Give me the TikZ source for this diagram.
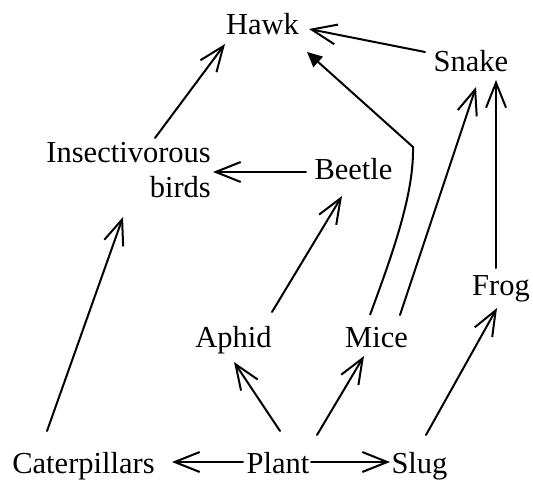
\documentclass[tikz,border=0pt]{standalone}
\usepackage{fontspec}
\setmainfont{Liberation Serif}
\usetikzlibrary{arrows.meta}
\begin{document}
\begin{tikzpicture}[x=1pt,y=-1pt,
  lbl/.style={font=\fontsize{30.5}{35}\selectfont, inner sep=0pt, anchor=base},
  arr/.style={line width=2pt, line cap=round, -{Straight Barb[length=25pt,width=20pt]}},
  farr/.style={line width=2pt, -{Triangle[length=15pt,width=14pt]}}]
\useasboundingbox (0,0) rectangle (533,481);
\node[lbl] (hawk) at (262.5,35) {Hawk};
\node[lbl] (snake) at (471,72) {Snake};
\node[lbl, align=right, anchor=north east] (insect) at (211,141.8) {Insectivorous\\birds};
\node[lbl] (beetle) at (353.5,180) {Beetle};
\node[lbl] (aphid) at (233.5,347) {Aphid};
\node[lbl] (mice) at (376.5,347) {Mice};
\node[lbl] (frog) at (501,295) {Frog};
\node[lbl] (cat) at (83.5,473) {Caterpillars};
\node[lbl] (plant) at (278,473) {Plant};
\node[lbl] (slug) at (419.5,473) {Slug};
\coordinate (bend) at (413,147);
\draw[arr] ([shift={(-46,-20)}]snake.base) -- ([shift={(46.5,-6)}]hawk.base);
\draw[arr] ([shift={(-56,-3.8)}]insect.north east) -- ([shift={(-37.5,9)}]hawk.base);
\draw[farr] ([shift={(-6.5,-32)}]mice.base) .. controls (392,255) and (414,195) .. (bend) -- ([shift={(44.5,17)}]hawk.base);
\draw[arr] ([shift={(23.5,-32)}]mice.base) -- ([shift={(5,15)}]snake.base);
\draw[arr] ([shift={(-5,-27)}]frog.base) -- ([shift={(25,8)}]snake.base);
\draw[arr] ([shift={(-47.5,-8)}]beetle.base) -- ([shift={(2,30.2)}]insect.north east);
\draw[arr] ([shift={(38.5,-35)}]aphid.base) -- ([shift={(-11.5,16)}]beetle.base);
\draw[arr] ([shift={(-36.5,-42)}]cat.base) -- ([shift={(-88,75.2)}]insect.north east);
\draw[arr] ([shift={(2,-42)}]plant.base) -- ([shift={(0.5,15)}]aphid.base);
\draw[arr] ([shift={(39,-38)}]plant.base) -- ([shift={(-12.5,9)}]mice.base);
\draw[arr] ([shift={(6.5,-38)}]slug.base) -- ([shift={(-4,13)}]frog.base);
\draw[arr] ([shift={(-35,-11)}]plant.base) -- ([shift={(88.5,-11)}]cat.base);
\draw[arr] ([shift={(33,-11)}]plant.base) -- ([shift={(-29.5,-11)}]slug.base);
\end{tikzpicture}
\end{document}
